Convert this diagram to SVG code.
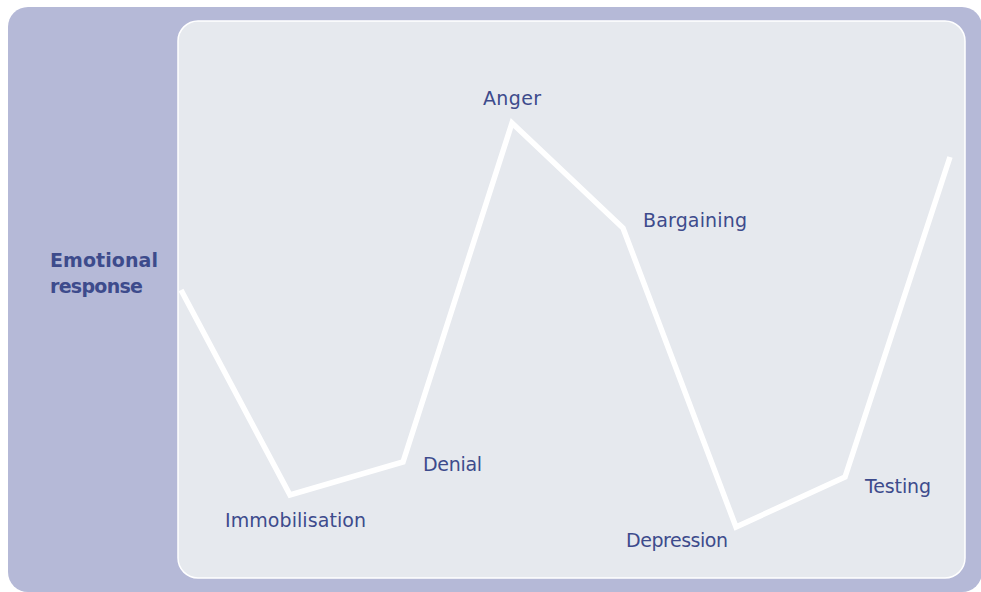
<svg xmlns="http://www.w3.org/2000/svg" width="981" height="592" viewBox="0 0 981 592">
<style>
.lbl{font-family:"DejaVu Sans","Liberation Sans",sans-serif;font-size:19px;fill:#3d4b8c}
.b{font-weight:bold}
</style>
<rect width="981" height="592" fill="#ffffff"/>
<rect x="8" y="7" width="974" height="585" rx="20" fill="#b5b9d7"/>
<rect x="178" y="21" width="787" height="557" rx="20" fill="#e6e9ee" stroke="#ffffff" stroke-width="1.5"/>
<g id="connectors">
<polyline points="181,290 290,495 403,462 512,123 623,228 736,527 845,477 950,157" fill="none" stroke="#ffffff" stroke-width="5.5" stroke-linejoin="miter"/>
</g>
<g id="axis"><text class="lbl b" x="50" y="267" textLength="108">Emotional</text><text class="lbl b" x="50" y="293" textLength="93">response</text></g>
<g id="immobilisation"><text class="lbl" x="225" y="527" textLength="141">Immobilisation</text></g>
<g id="denial"><text class="lbl" x="423" y="471" textLength="59">Denial</text></g>
<g id="anger"><text class="lbl" x="483" y="105" textLength="58">Anger</text></g>
<g id="bargaining"><text class="lbl" x="643" y="227" textLength="104">Bargaining</text></g>
<g id="depression"><text class="lbl" x="626" y="547" textLength="102">Depression</text></g>
<g id="testing"><text class="lbl" x="865" y="493" textLength="66">Testing</text></g>
</svg>
